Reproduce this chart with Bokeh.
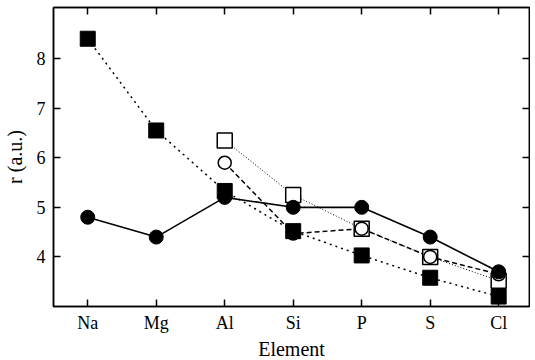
from bokeh.plotting import figure
from bokeh.models import Range1d, FixedTicker, LinearAxis
from bokeh.embed import file_html
from bokeh.resources import INLINE

elements = ["Na", "Mg", "Al", "Si", "P", "S", "Cl"]

# filled circles, solid line
r_circ = [4.8, 4.4, 5.2, 5.0, 5.0, 4.4, 3.7]
# filled squares, dotted line
r_sq = [8.4, 6.55, 5.33, 4.52, 4.03, 3.58, 3.2]
# open circles, dashed line (Al..Cl)
oc_idx = [2, 3, 4, 5, 6]
r_ocirc = [5.9, 4.47, 4.57, 4.0, 3.65]
oc_fill = ["white", "black", "white", "white", "white"]
# open squares, fine dotted line (Al..Cl)
os_idx = [2, 3, 4, 5, 6]
r_osq = [6.35, 5.25, 4.57, 4.0, 3.52]
y_ticks = [4, 5, 6, 7, 8]

FONT = "Liberation Serif"

p = figure(frame_width=476, frame_height=299, output_backend="svg", toolbar_location=None,
           x_range=Range1d(-0.5, 6.45), y_range=Range1d(3, 9.03),
           min_border_left=50, min_border_right=1, min_border_top=7, min_border_bottom=10)
p.grid.visible = False
p.outline_line_color = "black"
p.outline_line_width = 1.5
p.background_fill_color = "white"
p.border_fill_color = "white"

x_all = list(range(len(elements)))

# lines
p.line(x_all, r_sq, line_color="black", line_width=1.5, line_dash="2 4")
p.line(oc_idx, r_ocirc, line_color="black", line_width=1.5, line_dash="5 3")
p.line(os_idx, r_osq, line_color="black", line_width=1, line_dash="1 2")
p.line(x_all, r_circ, line_color="black", line_width=1.6)

# markers (open first, filled on top)
p.scatter(os_idx, r_osq, marker="square", size=15, fill_color="white", line_color="black", line_width=1.5)
p.scatter(oc_idx, r_ocirc, marker="circle", size=13, fill_color=oc_fill, line_color="black", line_width=1.5)
p.scatter(x_all, r_circ, marker="circle", size=14, fill_color="black", line_color="black")
p.scatter(x_all, r_sq, marker="square", size=15, fill_color="black", line_color="black")

# axes
xax = p.xaxis[0]
xax.ticker = FixedTicker(ticks=x_all)
xax.major_label_overrides = {i: e for i, e in enumerate(elements)}
xax.axis_label = "Element"
xax.major_label_standoff = 6
xax.axis_label_standoff = 2
yax = p.yaxis[0]
yax.ticker = FixedTicker(ticks=y_ticks)
yax.axis_label = "r (a.u.)"
yax.major_label_standoff = 8
yax.axis_label_standoff = 8

for ax in (xax, yax):
    ax.major_tick_in = 7
    ax.major_tick_out = 0
    ax.minor_tick_line_color = None
    ax.axis_line_width = 1.5
    ax.axis_line_color = "black"
    ax.major_tick_line_width = 1.5
    ax.major_tick_line_color = "black"
    ax.major_label_text_font = FONT
    ax.major_label_text_font_size = "18px"
    ax.major_label_text_color = "black"
    ax.axis_label_text_font = FONT
    ax.axis_label_text_font_size = "20px"
    ax.axis_label_text_font_style = "normal"
    ax.axis_label_text_color = "black"

top = LinearAxis(ticker=FixedTicker(ticks=x_all), major_tick_in=7, major_tick_out=0,
                 minor_tick_line_color=None,
                 major_label_overrides={i: "" for i in x_all},
                 axis_line_width=1.5, major_tick_line_width=1.5, major_label_standoff=0)
right = LinearAxis(ticker=FixedTicker(ticks=y_ticks), major_tick_in=7, major_tick_out=0,
                   minor_tick_line_color=None,
                   major_label_overrides={t: "" for t in y_ticks},
                   axis_line_width=1.5, major_tick_line_width=1.5, major_label_standoff=0)
p.add_layout(top, "above")
p.add_layout(right, "right")

open("out.html", "w").write(file_html(p, INLINE))
